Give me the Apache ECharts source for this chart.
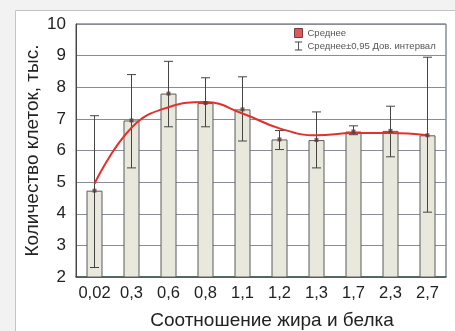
<!DOCTYPE html>
<html><head><meta charset="utf-8">
<script src="https://cdn.jsdelivr.net/npm/echarts@6/dist/echarts.min.js"></script>
<style>html,body{margin:0;padding:0;background:#f2f2f2}#c{width:455px;height:331px}</style>
</head><body><div id="c"></div>
<script>
const categories = ['0,02','0,3','0,6','0,8','1,1','1,2','1,3','1,7','2,3','2,7'];
const means   = [4.73, 6.95, 7.80, 7.50, 7.30, 6.35, 6.33, 6.60, 6.62, 6.48];
const ciUpper = [7.10, 8.40, 8.82, 8.30, 8.33, 6.63, 7.22, 6.78, 7.40, 8.95];
const ciLower = [2.30, 5.45, 6.75, 6.75, 6.30, 6.03, 5.45, 6.50, 5.80, 4.05];
const trend   = [4.95, 6.72, 7.37, 7.53, 7.17, 6.70, 6.48, 6.55, 6.55, 6.48];
const yTicks  = [2, 10, 1];

const chart = echarts.init(document.getElementById('c'));
const font = '"Liberation Sans", Arial, sans-serif';
chart.setOption({
  animation: false,
  backgroundColor: '#f2f2f2',
  graphic: [{type:'rect', shape:{x:15.5, y:10.5, width:450, height:330}, style:{fill:'#ffffff', stroke:'#c4c4c4', lineWidth:1}, z:-10}],
  grid: {left:76, right:9, top:24, bottom:54, outerBoundsMode:'none', containLabel:false,
         show:true, borderColor:'#4a5560', borderWidth:1, backgroundColor:'#ffffff'},
  legend: {
    left: 291, top: 27, orient:'vertical', itemWidth:8, itemHeight:9, itemGap:3,
    backgroundColor:'#ffffff', padding:[1,3,1,3],
    textStyle:{fontSize:9.5, color:'#555', fontFamily:font},
    data:[
      {name:'Среднее', icon:'rect', itemStyle:{color:'#d83030', borderColor:'#552222', borderWidth:1}},
      {name:'Среднее±0,95 Дов. интервал', icon:'path://M0,0h8v1h-8z M3.5,0h1v10h-1z M0,9h8v1h-8z', itemStyle:{color:'#444'}}
    ]
  },
  xAxis: {
    type:'category', data:categories,
    axisLine:{lineStyle:{color:'#3e5548', width:1.5}},
    axisTick:{show:false},
    axisLabel:{fontSize:16.5, color:'#222', margin:8, fontFamily:font, interval:0},
    name:'Соотношение жира и белка', nameLocation:'middle', nameGap:34, nameMoveOverlap:false,
    nameTextStyle:{fontSize:19, color:'#222', fontFamily:font, padding:[0,0,0,22]}
  },
  yAxis: {
    type:'value', min:yTicks[0], max:yTicks[1], interval:yTicks[2],
    axisLine:{show:true, lineStyle:{color:'#444'}},
    axisTick:{show:false},
    splitLine:{lineStyle:{color:'#8a8c98', width:1}},
    axisLabel:{fontSize:17, color:'#222', margin:10, fontFamily:font},
    name:'Количество клеток, тыс.', nameLocation:'middle', nameGap:34, nameMoveOverlap:false,
    nameTextStyle:{fontSize:19, color:'#222', fontFamily:font}
  },
  series: [
    {type:'bar', name:'bars', data:means, barWidth:16,
     itemStyle:{color:'#e8e9dc', borderColor:'#5a5a5a', borderWidth:1}, z:2},
    {type:'line', name:'trend', data:trend, smooth:0.45, symbol:'none',
     lineStyle:{color:'#e2302c', width:2}, z:5},
    {type:'custom', name:'Среднее±0,95 Дов. интервал',
     itemStyle:{color:'#444'},
     data: categories.map((c,i)=>[i, ciUpper[i], ciLower[i]]),
     renderItem: function(params, api){
       const x = api.value(0);
       const hi = api.coord([x, api.value(1)]);
       const lo = api.coord([x, api.value(2)]);
       const h = 4.5, st = {stroke:'#444', lineWidth:1};
       return {type:'group', children:[
         {type:'line', shape:{x1:hi[0], y1:hi[1], x2:lo[0], y2:lo[1]}, style:st},
         {type:'line', shape:{x1:hi[0]-h, y1:hi[1], x2:hi[0]+h, y2:hi[1]}, style:st},
         {type:'line', shape:{x1:lo[0]-h, y1:lo[1], x2:lo[0]+h, y2:lo[1]}, style:st}
       ]};
     }, z:4},
    {type:'scatter', name:'Среднее', data:means, symbol:'rect', symbolSize:4,
     itemStyle:{color:'#5a3a3a'}, z:6}
  ]
});
</script></body></html>
